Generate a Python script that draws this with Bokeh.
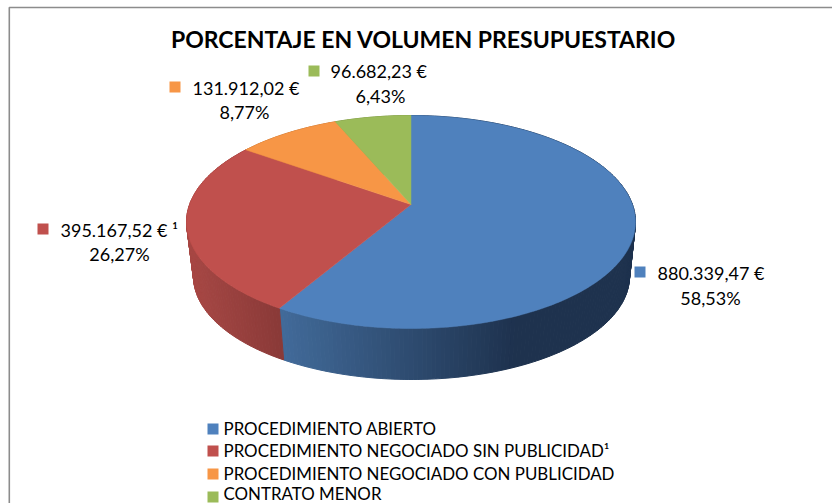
import math
from bokeh.plotting import figure
from bokeh.models import Range1d
from bokeh.core.properties import value
from bokeh.embed import file_html
from bokeh.resources import INLINE

title_text = "PORCENTAJE EN VOLUMEN PRESUPUESTARIO"
categories = ["PROCEDIMIENTO ABIERTO", "PROCEDIMIENTO NEGOCIADO SIN PUBLICIDAD¹",
              "PROCEDIMIENTO NEGOCIADO CON PUBLICIDAD", "CONTRATO MENOR"]
amounts = [880339.47, 395167.52, 131912.02, 96682.23]
amount_labels = ["880.339,47 €", "395.167,52 € ¹", "131.912,02 €", "96.682,23 €"]
percent_labels = ["58,53%", "26,27%", "8,77%", "6,43%"]
colors = ["#4F81BD", "#C0504D", "#F79646", "#9BBB59"]
# wall shading, left colour and right colour of each slice
wall_left = [(66, 107, 154), (168, 72, 69), (200, 120, 56), (125, 150, 70)]
wall_right = [(30, 50, 78), (138, 58, 56), (200, 120, 56), (125, 150, 70)]

FONT = "Lato"
p = figure(width=832, height=503, output_backend="svg", toolbar_location=None,
           x_range=Range1d(0, 832), y_range=Range1d(503, 0),
           min_border=0, outline_line_color=None, background_fill_color="white")
p.axis.visible = False
p.grid.visible = False

# Perspective disk: the projective map keeps the rim an ellipse, moves the hub up.
SKEW = 0.164
TOP = (410.5, 221.5, 224.5, 106.5)
BOT = (411.0, 276.0, 218.0, 103.0)


def project(theta_deg, rim):
    t = math.radians(theta_deg)
    u, v = math.sin(t), math.cos(t)
    w = 1 + SKEW * v
    X = u * math.sqrt(1 - SKEW ** 2) / w
    Y = (v + SKEW) / w
    cx, cy, rx, ry = rim
    return cx + rx * X, cy - ry * Y


def hub(rim):
    cx, cy, rx, ry = rim
    return cx, cy - ry * SKEW


total = sum(amounts)
bounds = [0.0]
for a in amounts:
    bounds.append(bounds[-1] + a / total * 360.0)

# side wall, as thin shaded strips
sx, sy, sc = [], [], []
for i in range(len(amounts)):
    n = max(2, int((bounds[i + 1] - bounds[i]) / 1.0))
    thetas = [bounds[i] + (bounds[i + 1] - bounds[i]) * k / n for k in range(n + 1)]
    xmin = min(project(t, BOT)[0] for t in thetas if project(t, BOT)[1] > 276 or i > 1)
    xmax = max(project(t, BOT)[0] for t in thetas if project(t, BOT)[1] > 276 or i > 1)
    for a, b in zip(thetas[:-1], thetas[1:]):
        x1, y1 = project(a, TOP)
        x2, y2 = project(b, TOP)
        x3, y3 = project(b, BOT)
        x4, y4 = project(a, BOT)
        f = (0.5 * (x3 + x4) - xmin) / max(xmax - xmin, 1)
        f = min(max(f, 0), 1)
        if i == 0:
            f = min(f * 1.5, 1)
        c = tuple(int(l + (r - l) * f) for l, r in zip(wall_left[i], wall_right[i]))
        sx.append([x1, x2, x3, x4])
        sy.append([y1, y2, y3, y4])
        sc.append("#%02x%02x%02x" % c)
p.patches(sx, sy, fill_color=sc, line_color=sc, line_width=1)

# top face
hx, hy = hub(TOP)
for i in range(len(amounts)):
    n = max(2, int((bounds[i + 1] - bounds[i]) / 1.0))
    pts = [project(bounds[i] + (bounds[i + 1] - bounds[i]) * k / n, TOP) for k in range(n + 1)]
    p.patch([hx] + [q[0] for q in pts], [hy] + [q[1] for q in pts],
            fill_color=colors[i], line_color=colors[i], line_width=0.5)

# frame
p.line([8.8, 8.8, 832], [503, 7, 7], line_color="#8c8c8c", line_width=1.6)

# title
p.text([423], [38.5], text=[title_text], text_font=value(FONT), text_font_style="bold",
       text_font_size="23px", text_color="#000000", text_align="center", text_baseline="middle")

# data labels
mark_x = [639.5, 42.5, 174.5, 313.5]
mark_y = [271.5, 228.5, 86.5, 70.5]
line1_x = [657, 60, 192, 330]
line1_y = [272, 229, 87, 70]
line2_x = [710, 119, 244, 380]
line2_y = [297, 253, 111, 95]
p.rect(mark_x, mark_y, width=11, height=11, fill_color=colors, line_color=None)
p.text(line1_x, line1_y, text=amount_labels, text_font=value(FONT), text_font_size="18px",
       text_color="#000000", text_align="left", text_baseline="middle")
p.text(line2_x, line2_y, text=percent_labels, text_font=value(FONT), text_font_size="18px",
       text_color="#000000", text_align="center", text_baseline="middle")

# legend
leg_y = [427.5, 449.5, 472.5, 492.5]
p.rect([212.5] * 4, [428.5, 450.5, 473.5, 496.5], width=11, height=11, fill_color=colors, line_color=None)
p.text([223] * 4, leg_y, text=categories, text_font=value(FONT), text_font_size="16.9px",
       text_color="#000000", text_align="left", text_baseline="middle")

open("out.html", "w").write(file_html(p, INLINE))
